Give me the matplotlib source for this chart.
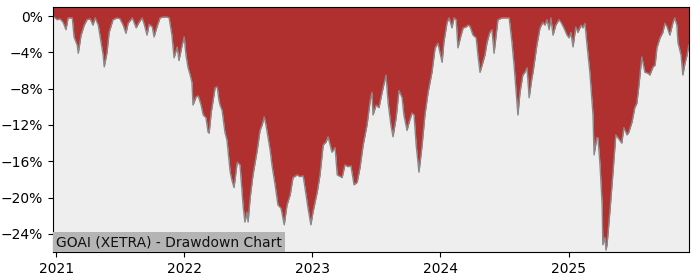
import matplotlib
matplotlib.use("Agg")
import matplotlib.pyplot as plt
from matplotlib.ticker import PercentFormatter
import pandas as pd

# Days since 2021-01-01 and drawdown (%)
days = [-9, 3, 11, 20, 28, 34, 46, 51, 60, 63, 71, 80, 88, 97, 105, 111, 120, 128, 134, 137,
        145, 151, 162, 174, 182, 191, 199, 205, 217, 228, 236, 245, 251, 259, 265, 274, 279, 288, 296, 305,
        316, 322, 330, 336, 345, 350, 359, 365, 370, 376, 382, 387, 390, 399, 405, 413, 419, 427, 433, 436,
        442, 453, 459, 464, 467, 473, 481, 487, 496, 501, 507, 516, 524, 533, 538, 544, 547, 553, 561, 573,
        581, 587, 593, 598, 604, 610, 615, 624, 632, 641, 650, 658, 667, 675, 687, 695, 704, 709, 718, 726,
        732, 744, 752, 761, 769, 775, 786, 795, 801, 815, 823, 832, 840, 849, 858, 866, 875, 886, 895, 900,
        903, 912, 920, 929, 940, 946, 954, 960, 969, 977, 986, 991, 1000, 1006, 1014, 1020, 1026, 1034, 1043, 1051,
        1060, 1071, 1080, 1088, 1100, 1105, 1114, 1120, 1128, 1134, 1140, 1145, 1154, 1160, 1168, 1174, 1179, 1188, 1197, 1202,
        1208, 1214, 1222, 1228, 1236, 1242, 1248, 1254, 1259, 1271, 1285, 1291, 1299, 1305, 1311, 1316, 1322, 1330, 1336, 1342,
        1348, 1356, 1359, 1365, 1370, 1379, 1387, 1393, 1399, 1405, 1410, 1416, 1424, 1433, 1439, 1447, 1456, 1462, 1467, 1473,
        1481, 1487, 1496, 1501, 1507, 1513, 1521, 1530, 1533, 1541, 1544, 1550, 1556, 1558, 1564, 1567, 1570, 1578, 1587, 1595,
        1601, 1612, 1618, 1627, 1632, 1641, 1649, 1655, 1661, 1669, 1678, 1687, 1692, 1701, 1707, 1712, 1721, 1729, 1735, 1741,
        1749, 1758, 1763, 1769, 1772, 1781, 1786, 1792, 1798, 1803]

drawdown = [0.0, -0.4, -0.3, -0.7, -1.5, -0.2, -0.2, -2.3, -3.2, -4.1, -2.1, -1.0, -0.4, -0.3, -1.0, -0.2, -1.0, -2.9, -4.3, -5.6,
            -4.0, -1.8, -0.4, -0.2, -0.3, -1.0, -1.9, -0.8, -0.2, -1.3, -0.7, -0.2, -0.9, -2.1, -0.9, -1.2, -2.3, -1.1, -0.2, -0.1,
            -0.1, -0.2, -2.1, -4.6, -3.4, -4.9, -3.2, -2.3, -4.3, -5.7, -6.5, -7.3, -9.8, -8.9, -8.8, -9.8, -10.9, -11.2, -12.8, -12.9,
            -10.6, -7.9, -7.8, -9.3, -9.8, -10.4, -12.8, -13.7, -17.2, -18.1, -18.9, -16.1, -16.4, -21.0, -22.7, -21.6, -22.7, -20.0, -17.5, -14.8,
            -12.6, -12.0, -11.1, -12.0, -13.4, -14.8, -16.4, -18.6, -20.8, -21.2, -23.0, -20.8, -19.7, -17.8, -17.5, -17.7, -17.6, -18.9, -21.2, -23.0,
            -21.6, -19.4, -17.5, -14.2, -13.9, -13.3, -15.0, -14.5, -17.5, -17.8, -16.4, -16.6, -16.5, -18.6, -18.3, -16.7, -14.2, -12.0, -9.3, -8.4,
            -10.9, -9.8, -10.1, -8.4, -6.5, -9.5, -12.0, -13.3, -11.2, -8.2, -9.0, -10.9, -12.6, -11.7, -10.7, -10.9, -14.2, -17.2, -14.2, -10.9,
            -8.4, -6.2, -3.5, -3.0, -5.1, -2.9, -0.7, -0.2, -1.3, -0.2, -0.4, -3.5, -2.1, -1.3, -1.2, -1.0, -1.1, -2.1, -2.4, -4.3,
            -6.2, -5.4, -4.3, -2.9, -1.8, -1.5, -4.1, -2.1, -0.4, -0.2, -0.2, -0.2, -2.9, -5.4, -8.4, -10.9, -8.4, -6.5, -6.2, -5.7,
            -9.0, -6.8, -6.2, -4.6, -3.2, -1.3, -0.7, -1.0, -0.4, -1.5, -0.2, -2.1, -1.0, -0.4, -0.7, -1.3, -2.1, -2.4, -1.8, -3.4,
            -1.2, -1.8, -1.0, -1.3, -0.8, -3.2, -6.2, -10.9, -15.3, -13.4, -13.4, -16.4, -20.8, -25.2, -24.4, -25.8, -25.2, -21.6, -17.2, -13.1,
            -13.4, -14.0, -12.3, -13.1, -12.8, -11.7, -10.1, -9.6, -7.6, -4.5, -6.2, -6.3, -6.5, -5.6, -5.4, -3.5, -2.4, -1.8, -0.8, -1.2,
            -2.1, -0.7, -0.2, -1.0, -2.9, -4.3, -6.5, -5.2, -4.3, -3.2]

title_text = "GOAI (XETRA) - Drawdown Chart"
yticks = [0, -4, -8, -12, -16, -20, -24]

dates = pd.Timestamp("2021-01-01") + pd.to_timedelta(days, unit="D")

fig = plt.figure(figsize=(7, 2.8), dpi=100)
ax = fig.add_axes([0.0757, 0.1, 0.9083, 0.875])
ax.set_facecolor("#eeeeee")

top = 1.0
ax.fill_between(dates, drawdown, top, color="#b03030", linewidth=0)
ax.plot(dates, drawdown, color="#888888", linewidth=1.0)

ax.set_xlim(dates[0], dates[-1])
ax.set_ylim(-26, top)
ax.set_yticks(yticks)
ax.yaxis.set_major_formatter(PercentFormatter(decimals=0))
xt = pd.to_datetime(["2021-01-01", "2022-01-01", "2023-01-01", "2024-01-01", "2025-01-01"])
ax.set_xticks(xt)
ax.set_xticklabels([str(d.year) for d in xt])
ax.tick_params(labelsize=10)

ax.text(0.005, 0.012, title_text, transform=ax.transAxes, fontsize=10,
        ha="left", va="bottom", color="#111111",
        bbox=dict(boxstyle="square,pad=0.22", facecolor="#b4b4b4", edgecolor="none"))

fig.savefig("out.png", dpi=100)
